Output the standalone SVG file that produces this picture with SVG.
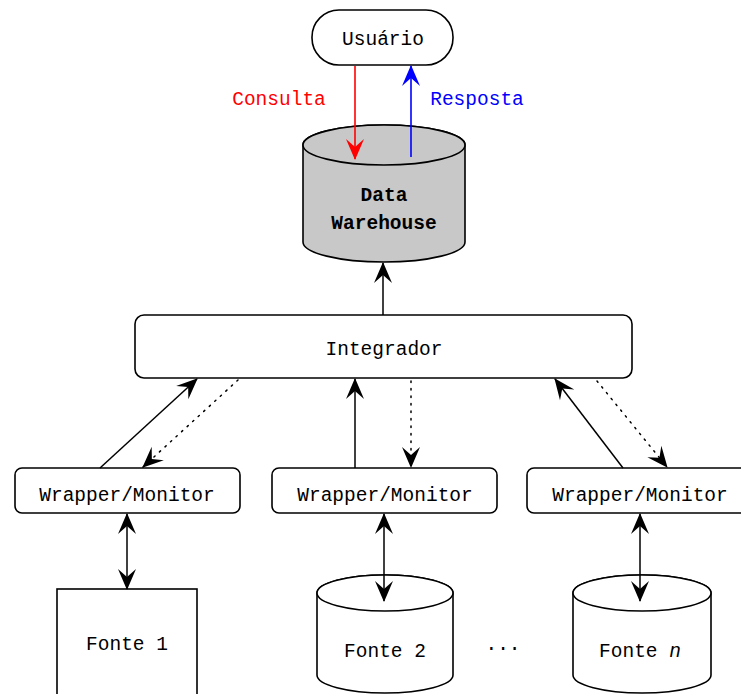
<svg xmlns="http://www.w3.org/2000/svg" width="741" height="694" viewBox="0 0 741 694">
  <style>
    .box { fill: #ffffff; stroke: #000000; stroke-width: 1.6; }
    .dw { fill: #c8c8c8; stroke: #000000; stroke-width: 1.6; }
    .lbl { font-family: "Liberation Mono", "Courier New", monospace; font-size: 19.5px; fill: #000000; text-anchor: middle; }
    .bold { font-weight: bold; }
    .edge { fill: none; stroke: #000000; stroke-width: 1.5; }
    .dot { stroke-dasharray: 1.5 6; stroke-linecap: round; }
  </style>
  <defs>
    <marker id="ah" markerWidth="26" markerHeight="22" refX="0" refY="0" viewBox="-23 -11 26 22" orient="auto" markerUnits="userSpaceOnUse">
      <path d="M1,0 L-20,-9 L-12,0 L-20,9 Z" fill="#000000"/>
    </marker>
    <marker id="ahR" markerWidth="26" markerHeight="22" refX="0" refY="0" viewBox="-23 -11 26 22" orient="auto" markerUnits="userSpaceOnUse">
      <path d="M1,0 L-20,-9 L-12,0 L-20,9 Z" fill="#ff0000"/>
    </marker>
    <marker id="ahB" markerWidth="26" markerHeight="22" refX="0" refY="0" viewBox="-23 -11 26 22" orient="auto" markerUnits="userSpaceOnUse">
      <path d="M1,0 L-20,-9 L-12,0 L-20,9 Z" fill="#0000ff"/>
    </marker>
  </defs>

  <rect width="741" height="694" fill="#ffffff"/>

  <!-- user -->
  <g id="usuario">
    <rect class="box" x="312" y="10" width="141" height="55" rx="27" ry="27"/>
    <text class="lbl" x="383" y="45">Usuário</text>
  </g>

  <g id="lbl-consulta">
    <text class="lbl" x="279" y="105" style="fill:#ff0000">Consulta</text>
  </g>
  <g id="lbl-resposta">
    <text class="lbl" x="477" y="105" style="fill:#0000ff">Resposta</text>
  </g>

  <!-- data warehouse -->
  <g id="warehouse">
    <path class="dw" d="M303,145 L303,242 A81,20 0 0 0 465,242 L465,145 A81,20 0 0 0 303,145 Z"/>
    <ellipse class="dw" cx="384" cy="145" rx="81" ry="20"/>
    <text class="lbl bold" x="384" y="201">Data</text>
    <text class="lbl bold" x="384" y="229">Warehouse</text>
  </g>

  <!-- integrator -->
  <g id="integrador">
    <rect class="box" x="135" y="315" width="497" height="63" rx="9" ry="9"/>
    <text class="lbl" x="384" y="355">Integrador</text>
  </g>

  <!-- wrappers -->
  <g id="wrapper1">
    <rect class="box" x="15" y="468" width="225" height="45" rx="7" ry="7"/>
    <text class="lbl" x="127" y="501">Wrapper/Monitor</text>
  </g>
  <g id="wrapper2">
    <rect class="box" x="272" y="468" width="225" height="45" rx="7" ry="7"/>
    <text class="lbl" x="385" y="501">Wrapper/Monitor</text>
  </g>
  <g id="wrapper3">
    <rect class="box" x="527" y="468" width="240" height="45" rx="7" ry="7"/>
    <text class="lbl" x="640" y="501">Wrapper/Monitor</text>
  </g>

  <!-- sources -->
  <g id="fonte1">
    <rect class="box" x="57" y="589" width="140" height="120"/>
    <text class="lbl" x="127" y="650">Fonte 1</text>
  </g>
  <g id="fonte2">
    <path class="box" d="M317,593 L317,675 A68,18 0 0 0 453,675 L453,593 A68,18 0 0 0 317,593 Z"/>
    <ellipse class="box" cx="385" cy="593" rx="68" ry="18"/>
    <text class="lbl" x="385" y="657">Fonte 2</text>
  </g>
  <g id="ellipsis">
    <text class="lbl" x="503" y="650">...</text>
  </g>
  <g id="fonten">
    <path class="box" d="M573,593 L573,675 A69,18 0 0 0 711,675 L711,593 A69,18 0 0 0 573,593 Z"/>
    <ellipse class="box" cx="642" cy="593" rx="69" ry="18"/>
    <text class="lbl" x="640" y="657">Fonte <tspan font-style="italic">n</tspan></text>
  </g>

  <!-- connectors, drawn over the nodes -->
  <g id="connectors">
    <line x1="355" y1="66" x2="355" y2="159" stroke="#ff0000" stroke-width="1.6" marker-end="url(#ahR)"/>
    <line x1="411" y1="157" x2="411" y2="66" stroke="#0000ff" stroke-width="1.6" marker-end="url(#ahB)"/>
    <line class="edge" x1="383" y1="315" x2="383" y2="263" marker-end="url(#ah)"/>

    <line class="edge" x1="100" y1="468" x2="197" y2="379" marker-end="url(#ah)"/>
    <line class="edge dot" x1="238" y1="380" x2="143" y2="467" marker-end="url(#ah)"/>
    <line class="edge" x1="355" y1="468" x2="355" y2="379" marker-end="url(#ah)"/>
    <line class="edge dot" x1="411" y1="381" x2="411" y2="467" marker-end="url(#ah)"/>
    <line class="edge" x1="623" y1="468" x2="555" y2="379" marker-end="url(#ah)"/>
    <line class="edge dot" x1="597" y1="381" x2="667" y2="467" marker-end="url(#ah)"/>

    <line class="edge" x1="127" y1="551" x2="127" y2="514" marker-end="url(#ah)"/>
    <line class="edge" x1="127" y1="551" x2="127" y2="589" marker-end="url(#ah)"/>
    <line class="edge" x1="384" y1="556" x2="384" y2="514" marker-end="url(#ah)"/>
    <line class="edge" x1="384" y1="556" x2="384" y2="601" marker-end="url(#ah)"/>
    <line class="edge" x1="640" y1="556" x2="640" y2="514" marker-end="url(#ah)"/>
    <line class="edge" x1="640" y1="556" x2="640" y2="601" marker-end="url(#ah)"/>
  </g>
</svg>
